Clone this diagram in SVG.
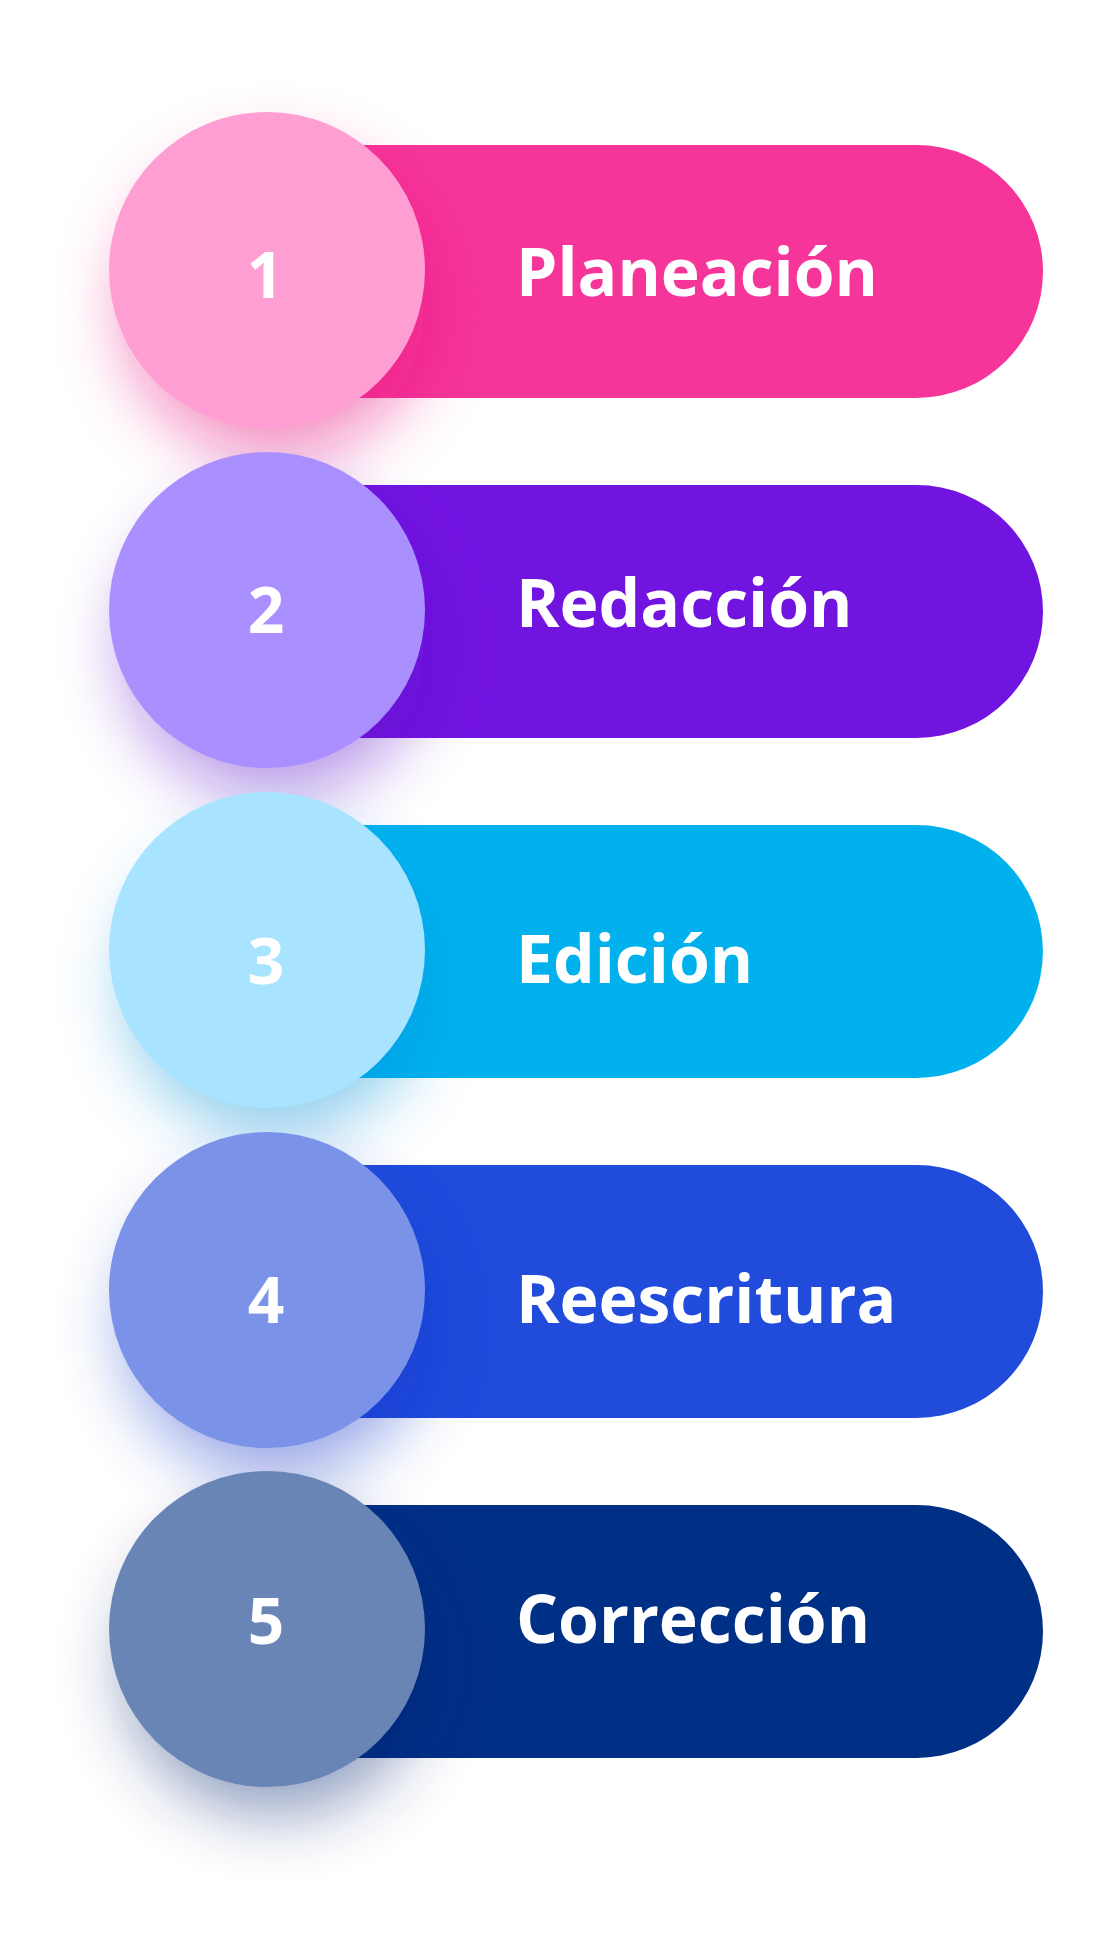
<svg xmlns="http://www.w3.org/2000/svg" width="1105" height="1946" viewBox="0 0 1105 1946">
  <defs>
    <filter id="blur" x="-80%" y="-80%" width="260%" height="260%">
      <feGaussianBlur stdDeviation="34"/>
    </filter>
    <style>
      .label { font-family: "Open Sans", "Liberation Sans", sans-serif; font-weight: 700; font-size: 66px; fill: #ffffff; }
      .num { font-family: "Open Sans", "Liberation Sans", sans-serif; font-weight: 700; font-size: 64px; fill: #ffffff; text-anchor: middle; }
      .shadow { filter: url(#blur); }
    </style>
  </defs>
  <rect width="1105" height="1946" fill="#ffffff"/>
  <g id="connectors"></g>

  <g id="step1">
    <path d="M267,145 H916.5 A126.5,126.5 0 0 1 916.5,398 H267 Z" fill="#F5359A"/>
    <circle class="shadow" cx="275" cy="305" r="150" fill="#E8107A" opacity="0.5"/>
    <circle cx="267" cy="270" r="158" fill="#FF9ED2"/>
    <text class="num" x="265" y="298">1</text>
    <text class="label" x="516" y="296">Planeación</text>
  </g>

  <g id="step2">
    <path d="M267,485 H916.5 A126.5,126.5 0 0 1 916.5,738 H267 Z" fill="#7214E0"/>
    <circle class="shadow" cx="275" cy="645" r="150" fill="#5A0AC8" opacity="0.45"/>
    <circle cx="267" cy="610" r="158" fill="#AA8FFF"/>
    <text class="num" x="266" y="633">2</text>
    <text class="label" x="516" y="627">Redacción</text>
  </g>

  <g id="step3">
    <path d="M267,825 H916.5 A126.5,126.5 0 0 1 916.5,1078 H267 Z" fill="#00B1EE"/>
    <circle class="shadow" cx="275" cy="985" r="150" fill="#0090D8" opacity="0.45"/>
    <circle cx="267" cy="950" r="158" fill="#A8E3FF"/>
    <text class="num" x="266" y="984">3</text>
    <text class="label" x="516" y="983">Edición</text>
  </g>

  <g id="step4">
    <path d="M267,1165 H916.5 A126.5,126.5 0 0 1 916.5,1418 H267 Z" fill="#204BDB"/>
    <circle class="shadow" cx="275" cy="1325" r="150" fill="#1030C8" opacity="0.45"/>
    <circle cx="267" cy="1290" r="158" fill="#7A93E8"/>
    <text class="num" x="266" y="1323">4</text>
    <text class="label" x="516" y="1323">Reescritura</text>
  </g>

  <g id="step5">
    <path d="M267,1505 H916.5 A126.5,126.5 0 0 1 916.5,1758 H267 Z" fill="#002F86"/>
    <circle class="shadow" cx="275" cy="1664" r="150" fill="#002070" opacity="0.45"/>
    <circle cx="267" cy="1629" r="158" fill="#6885B5"/>
    <text class="num" x="266" y="1644">5</text>
    <text class="label" x="516" y="1643">Corrección</text>
  </g>
</svg>
